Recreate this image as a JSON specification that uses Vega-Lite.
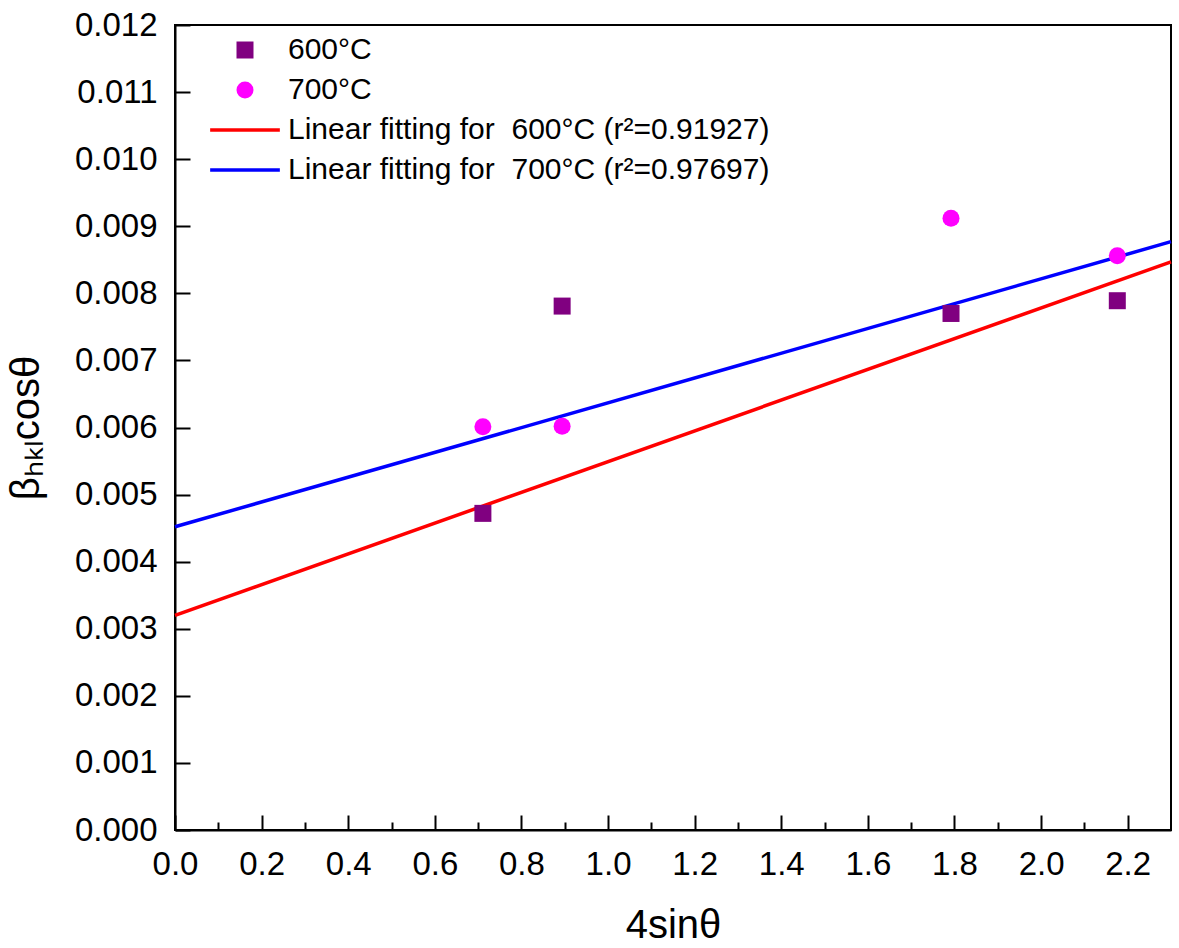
{
  "$schema": "https://vega.github.io/schema/vega-lite/v6.json",
  "width": 996,
  "height": 805,
  "autosize": {"type": "none"},
  "padding": {"left": 175, "top": 25, "right": 8, "bottom": 118},
  "background": "white",
  "config": {
    "font": "Liberation Sans",
    "view": {"stroke": "black", "strokeWidth": 2},
    "axis": {
      "domainColor": "black", "domainWidth": 2, "tickColor": "black", "tickWidth": 2,
      "labelColor": "black", "titleColor": "black", "grid": false,
      "labelFont": "Liberation Sans", "titleFont": "Liberation Sans",
      "labelFontSize": 33, "titleFontSize": 40, "titleFontWeight": "normal"
    },
    "legend": {
      "orient": "top-left", "offset": 10, "padding": 0,
      "labelFontSize": 30, "labelFont": "Liberation Sans", "labelColor": "black", "labelLimit": 0,
      "symbolSize": 289, "symbolOffset": 45, "labelOffset": 28, "rowPadding": 10,
      "symbolStrokeWidth": 0
    }
  },
  "datasets": {
    "pts": [
      {"x": 0.711, "y": 0.00472, "s": "600°C"},
      {"x": 0.894, "y": 0.00781, "s": "600°C"},
      {"x": 1.792, "y": 0.00770, "s": "600°C"},
      {"x": 2.176, "y": 0.00789, "s": "600°C"},
      {"x": 0.711, "y": 0.00601, "s": "700°C"},
      {"x": 0.894, "y": 0.00602, "s": "700°C"},
      {"x": 1.792, "y": 0.00912, "s": "700°C"},
      {"x": 2.176, "y": 0.00856, "s": "700°C"}
    ],
    "fits": [
      {"x": 0, "y": 0.00320, "s": "Linear fitting for \u00a0600°C (r²=0.91927)"},
      {"x": 2.3, "y": 0.00847, "s": "Linear fitting for \u00a0600°C (r²=0.91927)"},
      {"x": 0, "y": 0.00452, "s": "Linear fitting for \u00a0700°C (r²=0.97697)"},
      {"x": 2.3, "y": 0.00877, "s": "Linear fitting for \u00a0700°C (r²=0.97697)"}
    ]
  },
  "layer": [
    {
      "data": {"name": "fits"},
      "mark": {"type": "line", "strokeWidth": 3.5},
      "encoding": {
        "x": {
          "field": "x", "type": "quantitative",
          "scale": {"domain": [0, 2.3], "nice": false, "zero": false},
          "axis": {
            "title": "4sinθ", "titlePadding": 17,
            "values": [0,0.1,0.2,0.3,0.4,0.5,0.6,0.7,0.8,0.9,1.0,1.1,1.2,1.3,1.4,1.5,1.6,1.7,1.8,1.9,2.0,2.1,2.2],
            "labelExpr": "round(datum.value*10)%2==0 ? format(datum.value,'.1f') : ''",
            "tickSize": {"condition": {"test": "round(datum.value*10)%2==0", "value": -15}, "value": -8},
            "labelPadding": 33, "labelFlush": false, "labelOverlap": false
          }
        },
        "y": {
          "field": "y", "type": "quantitative",
          "scale": {"domain": [0, 0.012], "nice": false},
          "axis": {
            "title": "βₕₖₗcosθ", "titlePadding": 28,
            "values": [0,0.0005,0.001,0.0015,0.002,0.0025,0.003,0.0035,0.004,0.0045,0.005,0.0055,0.006,0.0065,0.007,0.0075,0.008,0.0085,0.009,0.0095,0.01,0.0105,0.011,0.0115,0.012],
            "labelExpr": "round(datum.value*2000)%2==0 ? format(datum.value,'.3f') : ''",
            "tickSize": {"condition": {"test": "round(datum.value*2000)%2==0", "value": -15}, "value": -8},
            "labelPadding": 33, "labelFlush": false, "labelOverlap": false
          }
        },
        "stroke": {"field": "s", "type": "nominal", "legend": null,
          "scale": {"domain": ["Linear fitting for \u00a0600°C (r²=0.91927)", "Linear fitting for \u00a0700°C (r²=0.97697)"],
                    "range": ["#FF0000", "#0000FF"]}}
      }
    },
    {
      "data": {"name": "pts"},
      "mark": {"type": "point", "filled": true, "opacity": 1, "size": 289},
      "encoding": {
        "x": {"field": "x", "type": "quantitative"},
        "y": {"field": "y", "type": "quantitative"},
        "color": {"field": "s", "type": "nominal",
          "scale": {"domain": ["600°C", "700°C", "Linear fitting for \u00a0600°C (r²=0.91927)", "Linear fitting for \u00a0700°C (r²=0.97697)"],
                    "range": ["#800080", "#FF00FF", "#FF0000", "#0000FF"]},
          "legend": {"title": null}},
        "shape": {"field": "s", "type": "nominal",
          "scale": {"domain": ["600°C", "700°C", "Linear fitting for \u00a0600°C (r²=0.91927)", "Linear fitting for \u00a0700°C (r²=0.97697)"],
                    "range": ["square", "circle", "M-4.1,-0.2H4.1V0.2H-4.1Z", "M-4.1,-0.2H4.1V0.2H-4.1Z"]},
          "legend": {"title": null}}
      }
    }
  ]
}
